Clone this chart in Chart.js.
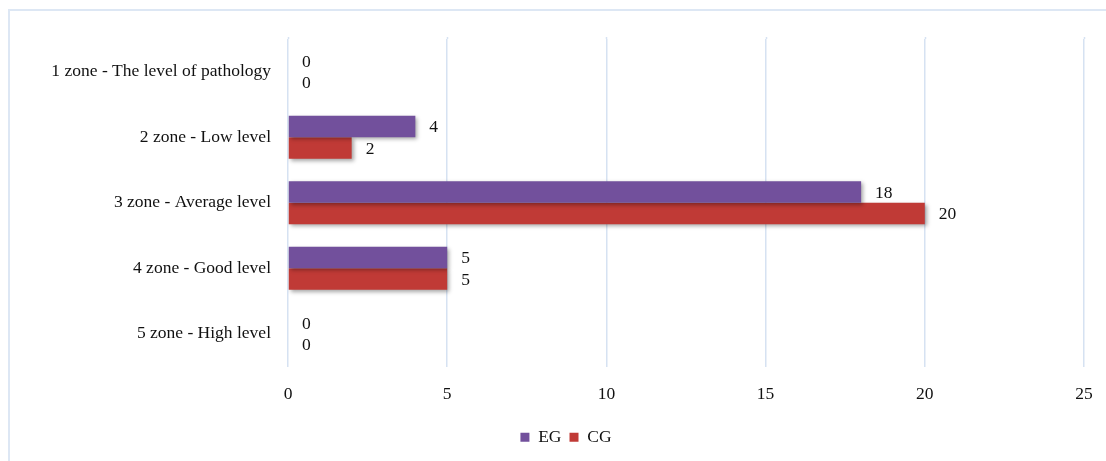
<!DOCTYPE html>
<html>
<head>
<meta charset="utf-8">
<script src="https://cdn.jsdelivr.net/npm/chart.js@4"></script>
<style>
  html, body { margin: 0; padding: 0; background: #fff; }
  #wrap { width: 1106px; height: 461px; position: relative; }
</style>
</head>
<body>
<div id="wrap"><canvas id="zoneChart"></canvas></div>
<script>
const zones = [
  '1 zone - The level of pathology',
  '2 zone - Low level',
  '3 zone - Average level',
  '4 zone - Good level',
  '5 zone - High level'
];
const egValues = [0, 4, 18, 5, 0];
const cgValues = [0, 2, 20, 5, 0];
const xTicks = [0, 5, 10, 15, 20, 25];

const serif = "'Liberation Serif', 'Times New Roman', serif";
const fontSize = 17.5;

// light blue frame round the chart, like the office export
const framePlugin = {
  id: 'frame',
  beforeDraw(chart) {
    const ctx = chart.ctx;
    ctx.save();
    ctx.strokeStyle = '#dde7f4';
    ctx.lineWidth = 2;
    ctx.beginPath();
    ctx.moveTo(9, chart.height);
    ctx.lineTo(9, 10);
    ctx.lineTo(chart.width, 10);
    ctx.stroke();
    ctx.restore();
  }
};

// gridlines reach a little above the first category
const gridTop = {
  id: 'gridTop',
  beforeDatasetsDraw(chart) {
    const ctx = chart.ctx;
    const x = chart.scales.x;
    ctx.save();
    ctx.strokeStyle = '#d6e2f2';
    ctx.lineWidth = 1.5;
    xTicks.forEach(v => {
      const px = Math.round(x.getPixelForValue(v)) + 0.5;
      ctx.beginPath();
      ctx.moveTo(px, chart.chartArea.top - 2);
      ctx.lineTo(px, chart.chartArea.top);
      ctx.stroke();
    });
    ctx.restore();
  }
};

// soft shadow under the bars
const shadowPlugin = {
  id: 'barShadow',
  beforeDatasetsDraw(chart) {
    const ctx = chart.ctx;
    ctx.save();
    ctx.shadowColor = 'rgba(0,0,0,0.35)';
    ctx.shadowBlur = 4;
    ctx.shadowOffsetX = 2;
    ctx.shadowOffsetY = 2;
  },
  afterDatasetsDraw(chart) {
    chart.ctx.restore();
  }
};

// value labels at the end of each bar
const valueLabels = {
  id: 'valueLabels',
  afterDatasetsDraw(chart) {
    const ctx = chart.ctx;
    ctx.save();
    ctx.font = fontSize + 'px ' + serif;
    ctx.fillStyle = '#111';
    ctx.textAlign = 'left';
    ctx.textBaseline = 'middle';
    chart.data.datasets.forEach((ds, i) => {
      chart.getDatasetMeta(i).data.forEach((bar, j) => {
        ctx.fillText(String(ds.data[j]), bar.x + 14, bar.y + 1);
      });
    });
    ctx.restore();
  }
};

new Chart(document.getElementById('zoneChart'), {
  type: 'bar',
  data: {
    labels: zones,
    datasets: [
      {
        label: 'EG',
        data: egValues,
        backgroundColor: '#72509c',
        borderWidth: 0,
        categoryPercentage: 0.66,
        barPercentage: 1.0
      },
      {
        label: 'CG',
        data: cgValues,
        backgroundColor: '#c03a36',
        borderWidth: 0,
        categoryPercentage: 0.66,
        barPercentage: 1.0
      }
    ]
  },
  options: {
    indexAxis: 'y',
    responsive: true,
    maintainAspectRatio: false,
    animation: false,
    layout: { padding: { top: 39, right: 22, left: 48, bottom: 5 } },
    scales: {
      x: {
        min: 0,
        max: 25,
        afterBuildTicks(scale) {
          scale.ticks = xTicks.map(v => ({ value: v }));
        },
        grid: { color: '#d6e2f2', lineWidth: 1.5, drawTicks: false },
        border: { display: false },
        ticks: {
          padding: 17,
          color: '#111',
          font: { family: serif, size: fontSize }
        },
        afterFit(scale) {
          scale.height = 54;
          scale.paddingLeft = 0;
          scale.paddingRight = 0;
        }
      },
      y: {
        grid: { display: false, drawTicks: false },
        border: { display: false },
        ticks: {
          padding: 17,
          color: '#111',
          font: { family: serif, size: fontSize }
        },
        afterFit(scale) { scale.width = 240; }
      }
    },
    plugins: {
      legend: {
        position: 'bottom',
        labels: {
          boxWidth: 9,
          boxHeight: 9,
          padding: 8,
          color: '#111',
          font: { family: serif, size: fontSize }
        }
      },
      tooltip: { enabled: false }
    }
  },
  plugins: [framePlugin, gridTop, shadowPlugin, valueLabels]
});
</script>
</body>
</html>
